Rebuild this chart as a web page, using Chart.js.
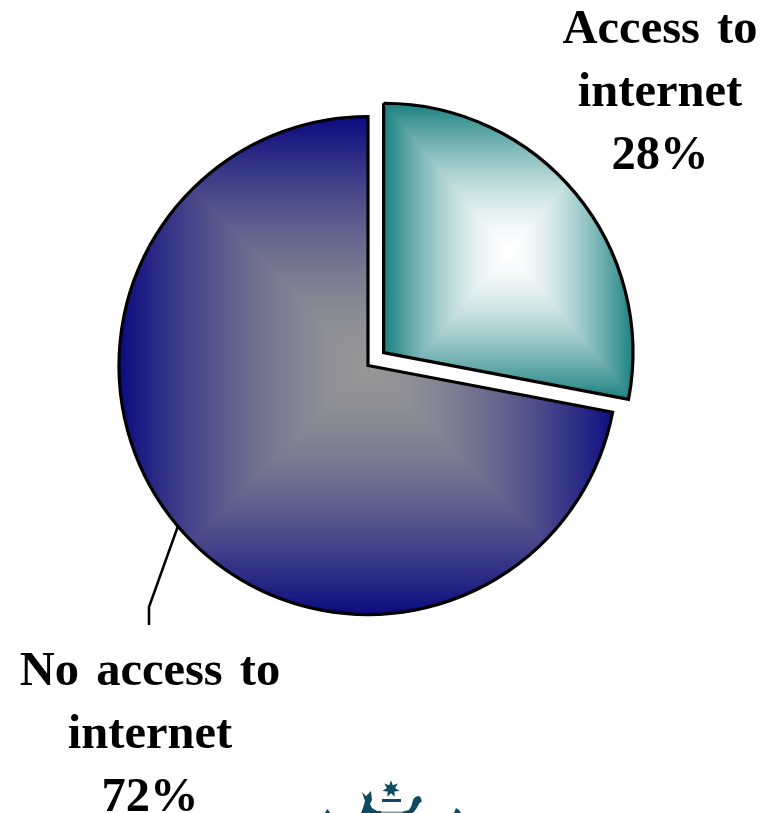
<!DOCTYPE html>
<html>
<head>
<meta charset="utf-8">
<title>Internet access</title>
<script src="https://cdn.jsdelivr.net/npm/chart.js@4"></script>
<style>
html, body { margin: 0; padding: 0; background: #fff; overflow: hidden; }
#wrap { position: relative; width: 773px; height: 813px; overflow: hidden; }
#pie { position: absolute; left: 0; top: 0; }
#crest { position: absolute; left: 325px; top: 775px; }
</style>
</head>
<body>
<div id="wrap">
<canvas id="pie" width="773" height="813"></canvas>
<svg id="crest" width="145" height="38" viewBox="0 0 145 38">
  <g fill="#0f4a60">
    <polygon points="66,5.3 67.8,10.2 72.8,8.6 70.1,13.1 74.5,15.9 69.3,16.6 69.8,21.8 66,18.2 62.2,21.8 62.7,16.6 57.5,15.9 61.9,13.1 59.2,8.6 64.2,10.2"/>
    <rect x="57" y="24" width="19" height="3"/>
    <path d="M37,17 L41,21 L46,16 L47,25 L45,29 L47,33 L52,36 L56,36 L56,38 L36,38 L38,33 L40,26 Z"/>
    <path d="M88,25 Q90,21 94,21 Q97,23 96.5,27 L94.5,28 Q92,33 89,37 L87,38 L78,38 L78,36.5 L84,35 Q87,31 88,25 Z"/>
    <path d="M2,34 L4,36 L5,38 L0,38 Z"/>
    <path d="M131,33 L134,35 L136,38 L129,38 Z"/>
  </g>
  <rect x="56" y="36.5" width="22" height="1.5" fill="#7f9aa6"/>
</svg>
</div>
<script>
var categories = [['Access to', 'internet'], ['No access to', 'internet']];
var shares = [28, 72];
// chart.js moves a slice by a quarter of its offset
var sliceOffsets = [81, 0];

// pyramid shaded fill: edge colour at the box border, centre colour in the middle
function boxGradient(box, edge, centre) {
    var c = document.createElement('canvas');
    c.width = 773;
    c.height = 813;
    var g = c.getContext('2d');
    var img = g.createImageData(c.width, c.height);
    var cx = box.x + box.w / 2, cy = box.y + box.h / 2;
    for (var y = 0; y < c.height; y++) {
        for (var x = 0; x < c.width; x++) {
            var t = Math.min(1, Math.max(Math.abs(x - cx) / (box.w / 2), Math.abs(y - cy) / (box.h / 2)));
            t = Math.pow(t, 1.6);
            var i = (y * c.width + x) * 4;
            img.data[i] = centre[0] + (edge[0] - centre[0]) * t;
            img.data[i + 1] = centre[1] + (edge[1] - centre[1]) * t;
            img.data[i + 2] = centre[2] + (edge[2] - centre[2]) * t;
            img.data[i + 3] = 255;
        }
    }
    g.putImageData(img, 0, 0);
    return g.createPattern(c, 'no-repeat');
}

var canvas = document.getElementById('pie');
var ctx = canvas.getContext('2d');

// boxes are in un-exploded coordinates, the arc translates the fill along with the slice
var fills = [
    boxGradient({x: 368, y: 116, w: 249, h: 296}, [26, 128, 128], [255, 255, 255]),
    boxGradient({x: 118, y: 116, w: 500, h: 499}, [10, 10, 128], [150, 150, 150])
];

var calloutPlugin = {
    id: 'callouts',
    afterDraw: function (chart) {
        var c = chart.ctx;
        c.save();
        c.fillStyle = '#000';
        c.font = 'bold 48.5px "Liberation Serif"';
        c.wordSpacing = '5px';
        c.textAlign = 'center';
        c.textBaseline = 'alphabetic';
        var labelX = [660, 150];
        var labelY = [43, 685];
        shares.forEach(function (v, i) {
            var lines = categories[i].concat(v + '%');
            lines.forEach(function (line, n) {
                c.fillText(line, labelX[i], labelY[i] + n * 63);
            });
        });
        // leader line for the large slice
        c.strokeStyle = '#000';
        c.lineWidth = 2.5;
        c.beginPath();
        c.moveTo(178, 526);
        c.lineTo(149, 607);
        c.lineTo(149, 625);
        c.stroke();
        c.restore();
    }
};

new Chart(ctx, {
    type: 'pie',
    data: {
        labels: categories.map(function (l) { return l.join(' '); }),
        datasets: [{
            data: shares,
            backgroundColor: fills,
            borderColor: '#000',
            borderWidth: 3.2,
            borderJoinStyle: 'miter',
            offset: sliceOffsets
        }]
    },
    options: {
        responsive: false,
        animation: false,
        radius: 249,
        layout: { padding: { right: 37, bottom: 82 } },
        plugins: {
            legend: { display: false },
            tooltip: { enabled: false }
        }
    },
    plugins: [calloutPlugin]
});
</script>
</body>
</html>
